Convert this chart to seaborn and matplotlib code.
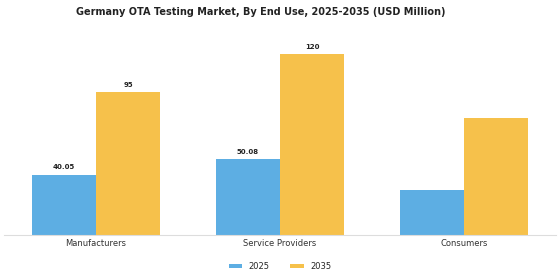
import pandas as pd
import seaborn as sns
import matplotlib.pyplot as plt

categories = ["Manufacturers", "Service Providers", "Consumers"]
years = ["2025", "2035"]
values_2025 = [40.05, 50.08, 29.8]
values_2035 = [95, 120, 77.6]
labels_2025 = ["40.05", "50.08", ""]
labels_2035 = ["95", "120", ""]

df = pd.DataFrame({
    "End Use": categories * 2,
    "Year": [years[0]] * 3 + [years[1]] * 3,
    "Value": values_2025 + values_2035,
})

sns.set_style("white")
fig = plt.figure(figsize=(5.6, 2.8), dpi=100)
ax = fig.add_axes([0.007, 0.161, 0.986, 0.743])

palette = {"2025": "#5DAEE3", "2035": "#F6C14B"}
sns.barplot(data=df, x="End Use", y="Value", hue="Year", palette=palette,
            width=0.7, saturation=1, linewidth=0, ax=ax, legend=True)

for cont, labs in zip(ax.containers, [labels_2025, labels_2035]):
    ax.bar_label(cont, labels=labs, padding=3, fontsize=5, fontweight="bold", color="#222222")

ax.set_xlim(-0.5, 2.5)
ax.set_ylim(0, 138)
ax.set_xlabel("")
ax.set_ylabel("")
ax.set_yticks([])
ax.tick_params(axis="x", length=0, labelsize=6, pad=3, colors="#333333")
for s in ["top", "right", "left"]:
    ax.spines[s].set_visible(False)
ax.spines["bottom"].set_color("#dddddd")
ax.spines["bottom"].set_linewidth(0.8)

ax.legend(loc="upper center", bbox_to_anchor=(0.5, -0.095), ncol=2, frameon=False,
          fontsize=6, handlelength=1.6, handleheight=0.4, handletextpad=0.8,
          columnspacing=2.5)

fig.suptitle("Germany OTA Testing Market, By End Use, 2025-2035 (USD Million)",
             fontsize=7, fontweight="bold", x=0.466, y=0.975, color="#222222")

fig.savefig("out.png", dpi=100)
